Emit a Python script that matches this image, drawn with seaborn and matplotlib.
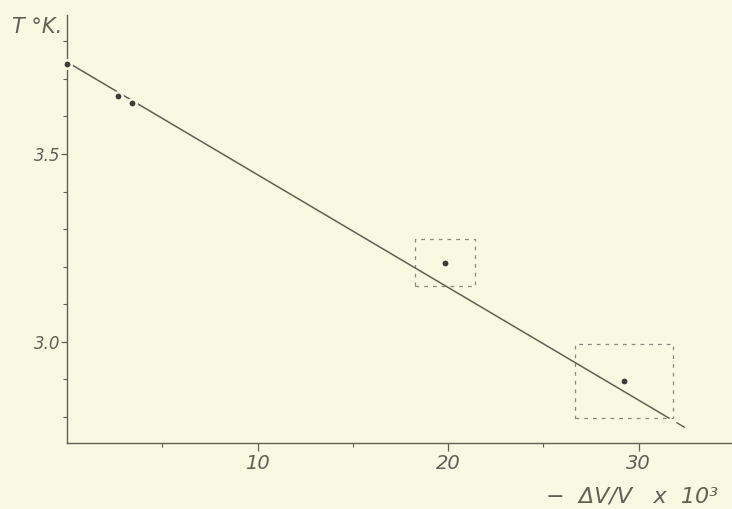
import numpy as np
import pandas as pd
import seaborn as sns
import matplotlib.pyplot as plt
from matplotlib.patches import Rectangle

# measured points: -dV/V x 10^3 against T (K)
dv = [0.0, 2.7, 3.42, 19.83, 29.25]
temp = [3.74, 3.655, 3.636, 3.209, 2.896]

# fitted straight line and its short dashed continuation
line_dv = [0.0, 31.6]
line_t = [3.745, 2.797]
ext_dv = [32.0, 32.4]
ext_t = [2.785, 2.773]

# dotted boxes round the two doubtful points (x0, x1, t0, t1)
box_dv = [[18.29, 21.39], [26.64, 31.78]]
box_t = [[3.149, 3.274], [2.798, 2.995]]

xticks_major = [10, 20, 30]
xticks_minor = [5, 15, 25]
yticks_major = [3.0, 3.5]
yticks_minor = [2.8, 2.9, 3.1, 3.2, 3.3, 3.4, 3.6, 3.7, 3.8]

paper = '#f8f9e0'
ink = '#606059'

sns.set_theme(style='ticks')
plt.rcParams['font.family'] = ['DejaVu Sans']

fig = plt.figure(figsize=(7.32, 5.09), dpi=100, facecolor=paper)
ax = fig.add_axes([0.0915, 0.1297, 0.9085, 0.8408])
ax.set_facecolor(paper)

df_line = pd.DataFrame({'dv': line_dv, 't': line_t})
df_pts = pd.DataFrame({'dv': dv, 't': temp})

sns.lineplot(x='dv', y='t', data=df_line, ax=ax, color=ink, linewidth=1.1, zorder=2)
ax.plot(ext_dv, ext_t, color=ink, linewidth=1.0, zorder=2)
sns.scatterplot(x='dv', y='t', data=df_pts, ax=ax, color='#3c3c38', s=36,
                edgecolor=paper, linewidth=1.8, zorder=3, clip_on=False)

for bx, bt in zip(box_dv, box_t):
    ax.add_patch(Rectangle((bx[0], bt[0]), bx[1] - bx[0], bt[1] - bt[0],
                           fill=False, edgecolor='#8a8a80', linewidth=0.9,
                           linestyle=(0, (3, 4)), zorder=1))

ax.set_xlim(0, 34.9)
ax.set_ylim(2.731, 3.870)

ax.set_xticks(xticks_major)
ax.set_xticks(xticks_minor, minor=True)
ax.set_yticks(yticks_major)
ax.set_yticks(yticks_minor, minor=True)
ax.set_xticklabels([str(v) for v in xticks_major], fontstyle='italic', fontsize=14, color=ink)
ax.set_yticklabels(['3.0', '3.5'], fontstyle='italic', fontsize=12, color=ink)

ax.tick_params(axis='x', which='major', direction='out', length=6, width=0.9, color=ink, pad=2)
ax.tick_params(axis='y', which='major', direction='out', length=4, width=0.9, color=ink, pad=1)
ax.tick_params(axis='both', which='minor', direction='out', length=3, width=0.8, color=ink)

sns.despine(ax=ax, top=True, right=True)
for side in ['left', 'bottom']:
    ax.spines[side].set_color(ink)
    ax.spines[side].set_linewidth(1.0)

ax.set_xlabel('')
ax.set_ylabel('')

fig.text(12 / 732, 1 - 27 / 509, 'T °K.', ha='left', va='center',
         fontsize=15, fontstyle='italic', color=ink)
fig.text(718 / 732, 1 - 497 / 509, '−  ΔV/V   x  10³', ha='right', va='center',
         fontsize=16, fontstyle='italic', color=ink)

plt.savefig('out.png', dpi=100, facecolor=paper)
